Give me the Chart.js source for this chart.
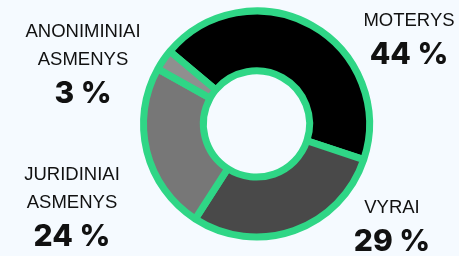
<!DOCTYPE html>
<html>
<head>
<meta charset="utf-8">
<script src="https://cdn.jsdelivr.net/npm/chart.js@4"></script>
<style>
  html, body { margin: 0; padding: 0; background: #f5faff; }
  #wrap { position: relative; width: 459px; height: 256px; }
</style>
</head>
<body>
<div id="wrap"><canvas id="chart" width="459" height="256"></canvas></div>
<script>
// donut: share of owners
const categories = ["MOTERYS", "VYRAI", "JURIDINIAI ASMENYS", "ANONIMINIAI ASMENYS"];
const labelLines = [["MOTERYS"], ["VYRAI"], ["JURIDINIAI", "ASMENYS"], ["ANONIMINIAI", "ASMENYS"]];
const values = [44, 29, 24, 3];
const colors = ["#000000", "#494949", "#777777", "#8f8f8f"];
const green = "#2fd686";

// where each label block sits (x centre, baseline of the % line)
const labelAt = [[409, 64], [392, 251], [72, 246], [83, 103]];

const labelPlugin = {
  id: "sideLabels",
  afterDraw(chart) {
    const ctx = chart.ctx;
    ctx.save();
    ctx.fillStyle = "#111";
    ctx.textAlign = "center";
    ctx.textBaseline = "alphabetic";
    values.forEach((v, i) => {
      const [x, y] = labelAt[i];
      const lines = labelLines[i];
      ctx.font = "800 30px Inter";
      ctx.fillText(v + " %", x, y);
      ctx.font = "18.5px 'Liberation Sans'";
      lines.forEach((t, j) => {
        ctx.fillText(t, x, y - 38 - (lines.length - 1 - j) * 28);
      });
    });
    ctx.restore();
  },
};

new Chart(document.getElementById("chart"), {
  type: "doughnut",
  data: {
    labels: categories,
    datasets: [{
      data: values,
      backgroundColor: colors,
      borderColor: green,
      borderWidth: 7,
      hoverOffset: 0,
    }],
  },
  options: {
    responsive: false,
    animation: false,
    rotation: -50,
    cutout: "47%",
    layout: { padding: { left: 140, right: 86, top: 0, bottom: 8 } },
    plugins: { legend: { display: false }, tooltip: { enabled: false } },
  },
  plugins: [labelPlugin],
});
</script>
</body>
</html>
